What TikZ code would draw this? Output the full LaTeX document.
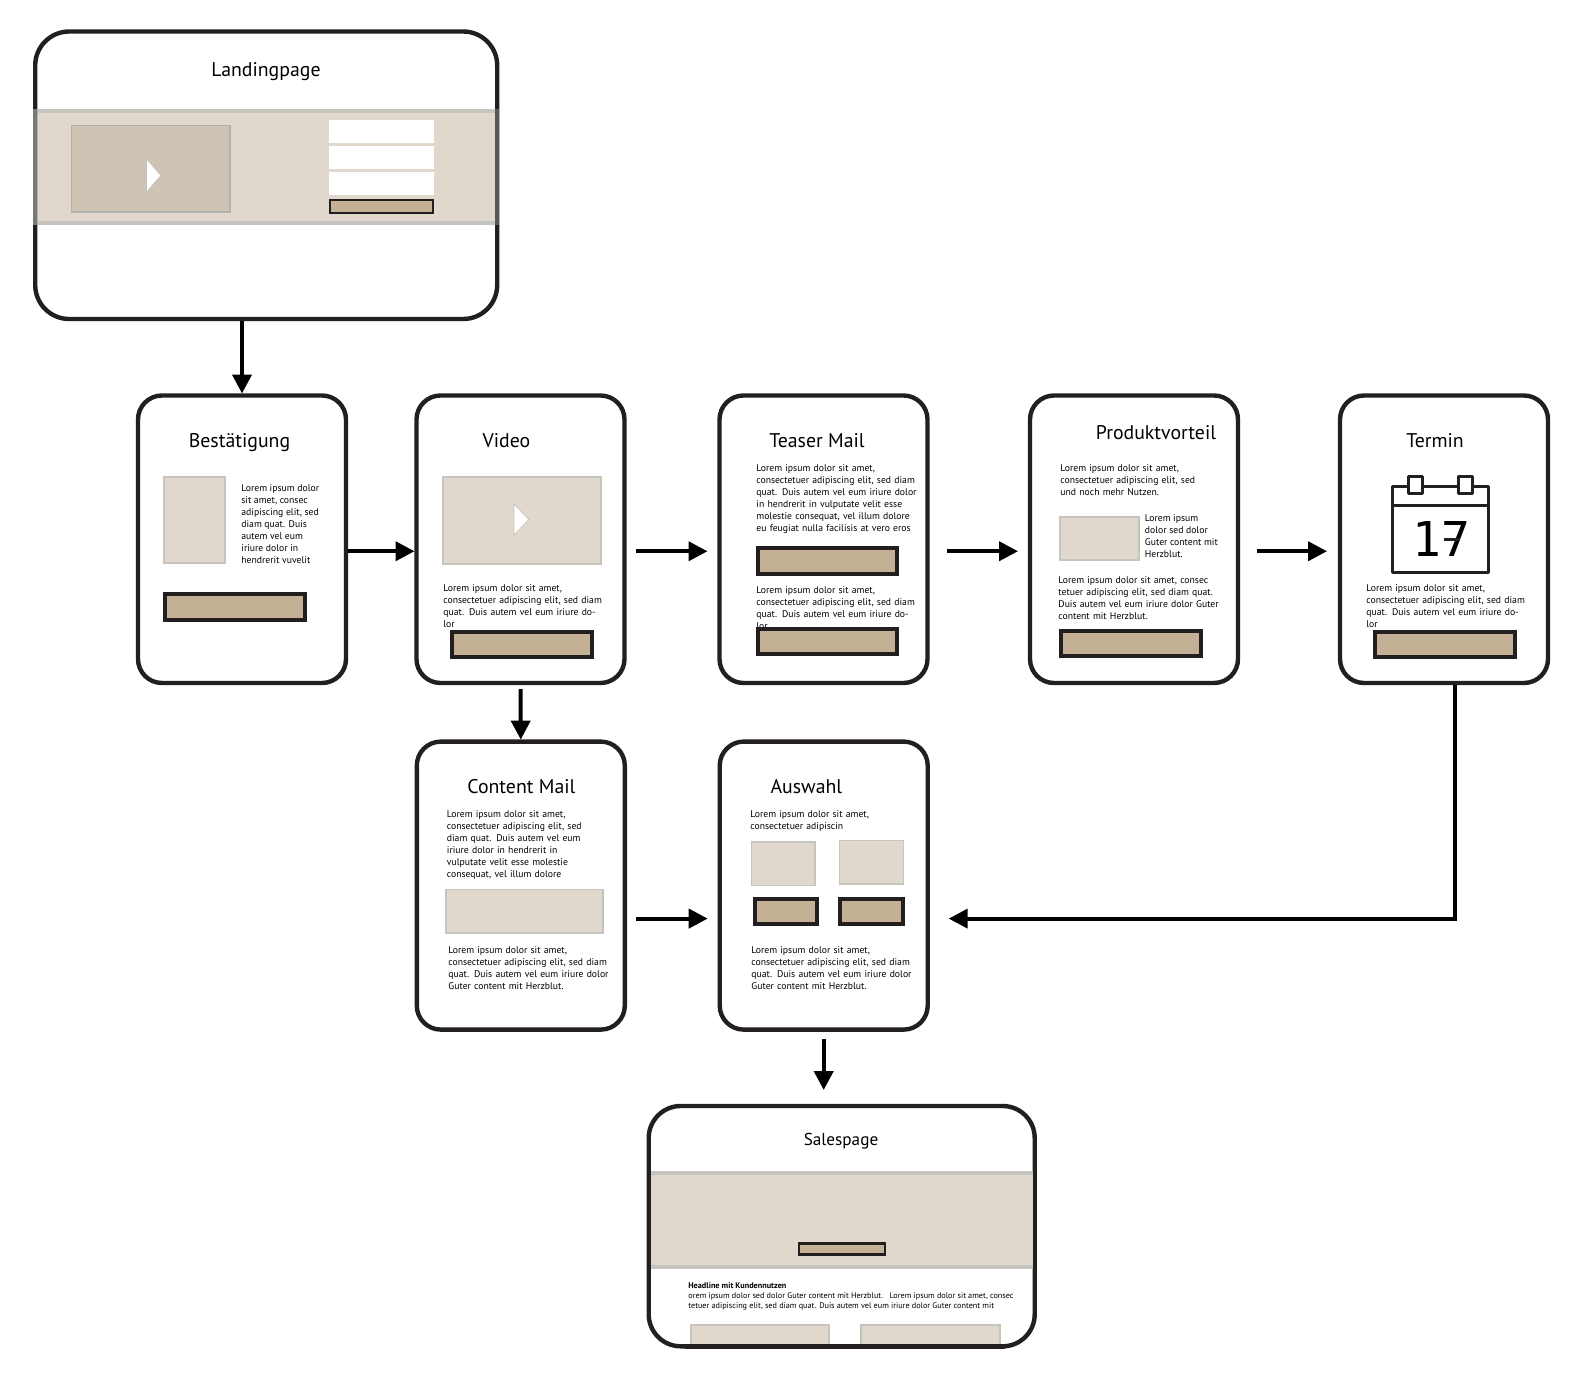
\documentclass[tikz,border=0pt]{standalone}
\usepackage{fontspec}
\usepackage{xcolor}
\usetikzlibrary{arrows.meta}
\setmainfont{PT Sans}
\newfontfamily\calfont{DejaVu Sans Mono}
\definecolor{framecol}{HTML}{231F20}
\definecolor{sandlight}{HTML}{E0D8CC}
\definecolor{sandmid}{HTML}{CFC4B4}
\definecolor{sanddark}{HTML}{C4B095}
\definecolor{edgecol}{HTML}{C6C4BE}
\newcommand{\fullline}[1]{\noindent\hbox to \hsize{#1}}
\tikzset{
    card/.style={draw=framecol,line width=2.2pt,fill=white,rounded corners=12pt,outer sep=1pt,inner sep=0pt,minimum width=104pt,minimum height=143.75pt},
    flow/.style={-{Triangle[length=9.5pt,width=9.5pt]},line width=2pt,black},
    heading/.style={font=\fontsize{9.9}{12}\selectfont,inner sep=0pt,text=black},
    bodytext/.style={font=\fontsize{4.85}{6}\selectfont,inner sep=0pt,anchor=north west,align=left},
    bodyleft/.style={font=\fontsize{4.85}{6}\selectfont,inner sep=0pt,anchor=north west,align=left},
    picbox/.style={fill=sandlight,draw=edgecol,line width=0.8pt},
    cta/.style={fill=sanddark,draw=framecol,line width=2pt},
    ctasmall/.style={fill=sanddark,draw=framecol,line width=1.2pt},
    playmark/.style={fill=white,draw=edgecol,line width=0.4pt},
    bandline/.style={draw=edgecol,line width=2pt},
    calline/.style={draw=framecol,line width=1.5pt,line join=round}
}
\begin{document}
\begin{tikzpicture}[x=0.5pt,y=-0.5pt]
    \useasboundingbox (0,0) rectangle (1596,1386);
    % landing page
    \node[card,rounded corners=17pt,minimum width=231pt] (landing) at (266.2,175.25) {};
    \fill[sandlight] (38,110) rectangle (495,224);
    \draw[bandline] (38,111) -- (495,111);
    \draw[bandline] (38,223) -- (495,223);
    \draw[white,opacity=.4,line width=2.2pt] (35.2,109) -- (35.2,225);
    \draw[white,opacity=.25,line width=2.2pt] (497.2,109) -- (497.2,225);
    \draw[fill=sandmid,draw=edgecol!90!black,line width=0.8pt] (71.5,125.5) rectangle (230,212);
    \draw[playmark] (146.5,159) -- (161,175.5) -- (146.5,192) -- cycle;
    \fill[white] (328.5,120) rectangle (434,143);
    \fill[white] (328.5,146) rectangle (434,169);
    \fill[white] (328.5,172) rectangle (434,195);
    \draw[ctasmall] (330,200) rectangle (433,213);
    \node[heading] (landingtitle) at (266,72) {Landingpage};
    % confirmation
    \node[card] (confirm) at (242,539.25) {};
    \node[heading] (confirmtitle) at (239.5,442.5) {Bestätigung};
    \draw[picbox] (164,477) rectangle (225,563);
    \node[bodyleft] (confirmtext) at (241,484) {Lorem ipsum dolor\\sit amet, consec\\adipiscing elit, sed\\diam quat. Duis\\autem vel eum\\iriure dolor in\\hendrerit vuvelit};
    \draw[cta] (165,594) rectangle (305,620);
    % video
    \node[card] (video) at (520.5,539.25) {};
    \node[heading] (videotitle) at (506.5,441) {Video};
    \draw[picbox] (443,477) rectangle (601,564);
    \draw[playmark] (514,504) -- (529,519.5) -- (514,535) -- cycle;
    \node[bodytext,text width=78.5pt] (videotext) at (443,584.5) {\fullline{Lorem ipsum dolor sit amet,}\\\fullline{consectetuer adipiscing elit, sed diam}\\quat. Duis autem vel eum iriure dolor};
    \draw[cta] (452,632) rectangle (592,657);
    % teaser mail
    \node[card] (teaser) at (823.5,539.25) {};
    \node[heading] (teasertitle) at (817,441) {Teaser Mail};
    \node[bodytext,text width=78.5pt] (teasertext) at (756,464.2) {\fullline{Lorem ipsum dolor sit amet,}\\\fullline{consectetuer adipiscing elit, sed diam}\\\fullline{quat. Duis autem vel eum iriure dolor}\\\fullline{in hendrerit in vulputate velit esse}\\\fullline{molestie consequat, vel illum dolore}\\eu feugiat nulla facilisis at vero eros};
    \draw[cta] (758,548) rectangle (897,574);
    \node[bodytext,text width=78.5pt] (teasermore) at (756,586.5) {\fullline{Lorem ipsum dolor sit amet,}\\\fullline{consectetuer adipiscing elit, sed diam}\\quat. Duis autem vel eum iriure dolor};
    \draw[cta] (758,629) rectangle (897,654);
    % product benefit
    \node[card] (benefit) at (1134,539.25) {};
    \node[heading] (benefittitle) at (1156,433) {Produktvorteil};
    \node[bodytext,text width=73pt] (benefittext) at (1060,464.2) {\fullline{Lorem ipsum dolor sit amet,}\\\fullline{consectetuer adipiscing elit, sed}\\und noch mehr Nutzen.};
    \draw[picbox] (1060,517) rectangle (1139,560);
    \node[bodyleft] (benefitside) at (1144.5,514) {Lorem ipsum\\dolor sed dolor\\Guter content mit\\Herzblut.};
    \node[bodytext,text width=79pt] (benefitmore) at (1058,576.5) {\fullline{Lorem ipsum dolor sit amet, consec}\\\fullline{tetuer adipiscing elit, sed diam quat.}\\\fullline{Duis autem vel eum iriure dolor Guter}\\content mit Herzblut.};
    \draw[cta] (1061,631) rectangle (1201,656);
    % date
    \node[card] (date) at (1444,539.25) {};
    \node[heading] (datetitle) at (1435,441) {Termin};
    \draw[calline] (1392,486) rectangle (1488,572.5);
    \draw[calline] (1392,505.5) -- (1488,505.5);
    \draw[calline,fill=white] (1408.5,476) rectangle (1422,493);
    \draw[calline,fill=white] (1458,476) rectangle (1472,493);
    \node[inner sep=0pt,font=\fontsize{24}{24}\selectfont\calfont] (daynum) at (1441,539) {17};
    \draw[calline] (1444,539.5) -- (1460,539.5);
    \node[bodytext,text width=78.5pt] (datetext) at (1366,584.5) {\fullline{Lorem ipsum dolor sit amet,}\\\fullline{consectetuer adipiscing elit, sed diam}\\quat. Duis autem vel eum iriure dolor};
    \draw[cta] (1375,632) rectangle (1515,657);
    % content mail
    \node[card,minimum height=144pt] (content) at (520.8,885.6) {};
    \node[heading] (contenttitle) at (521.4,787) {Content Mail};
    \node[bodytext,text width=73.2pt] (contenttext) at (446.5,810.2) {\fullline{Lorem ipsum dolor sit amet,}\\\fullline{consectetuer adipiscing elit, sed}\\\fullline{diam quat. Duis autem vel eum}\\\fullline{iriure dolor in hendrerit in}\\\fullline{vulputate velit esse molestie}\\consequat, vel illum dolore};
    \draw[picbox] (446,889.5) rectangle (603,933);
    \node[bodytext,text width=79.2pt] (contentmore) at (448,946.2) {\fullline{Lorem ipsum dolor sit amet,}\\\fullline{consectetuer adipiscing elit, sed diam}\\\fullline{quat. Duis autem vel eum iriure dolor}\\Guter content mit Herzblut.};
    % choice
    \node[card,minimum height=144pt] (choice) at (823.7,885.6) {};
    \node[heading] (choicetitle) at (806.4,787) {Auswahl};
    \node[bodytext,text width=73.2pt] (choicetext) at (750,810.2) {\fullline{Lorem ipsum dolor sit amet,}\\consectetuer adipiscin};
    \draw[picbox] (751.5,842) rectangle (815,885.5);
    \draw[picbox] (839.5,840.5) rectangle (903.5,884);
    \draw[cta] (754.5,899) rectangle (817,924);
    \draw[cta] (840,899) rectangle (903,924);
    \node[bodytext,text width=79pt] (choicemore) at (751,946.2) {\fullline{Lorem ipsum dolor sit amet,}\\\fullline{consectetuer adipiscing elit, sed diam}\\\fullline{quat. Duis autem vel eum iriure dolor}\\Guter content mit Herzblut.};
    % sales page
    \node[card,rounded corners=16pt,minimum width=193pt,minimum height=120.15pt] (sales) at (841.7,1226.15) {};
    \fill[sandlight] (651,1172) rectangle (1033,1267);
    \draw[bandline] (651,1172.5) -- (1033,1172.5);
    \draw[bandline] (651,1267) -- (1033,1267);
    \draw[ctasmall] (799,1243.5) rectangle (885,1254.5);
    \node[heading,font=\fontsize{8.6}{10}\selectfont] (salestitle) at (841,1141) {Salespage};
    \node[bodyleft,font=\fontsize{4.1}{5}\selectfont] (salestext) at (688,1282.5) {\textbf{Headline mit Kundennutzen}\\orem ipsum dolor sed dolor Guter content mit Herzblut.\ \ \ Lorem ipsum dolor sit amet, consec\\tetuer adipiscing elit, sed diam quat. Duis autem vel eum iriure dolor Guter content mit};
    \path[picbox] (691,1346) -- (691,1325) -- (829,1325) -- (829,1346) -- cycle;
    \path[picbox] (861,1346) -- (861,1325) -- (1000,1325) -- (1000,1346) -- cycle;
    \draw[framecol,line width=2.2pt] (685,1346.3) -- (1005,1346.3);
    % connectors
    \draw[flow] (confirm.north |- landing.south) -- (confirm.north);
    \draw[flow] ([yshift=-6pt]confirm.east) -- ([yshift=-6pt]video.west);
    \draw[flow,shorten <=4.5pt,shorten >=5pt] ([yshift=-6pt]video.east) -- ([yshift=-6pt]teaser.west);
    \draw[flow,shorten <=8.5pt,shorten >=5pt] ([yshift=-6pt]teaser.east) -- ([yshift=-6pt]benefit.west);
    \draw[flow,shorten <=8.5pt,shorten >=5.5pt] ([yshift=-6pt]benefit.east) -- ([yshift=-6pt]date.west);
    \draw[flow,shorten <=2pt] (video.south) -- (content.north);
    \draw[flow,shorten <=4.5pt,shorten >=5pt] ([yshift=-16.5pt]content.east) -- ([yshift=-16.5pt]choice.west);
    \draw[flow,shorten >=9.5pt] ([xshift=5.5pt]date.south) |- ([yshift=-16.5pt]choice.east);
    \draw[flow,shorten <=3.5pt,shorten >=7pt] (choice.south) -- (choice.south |- sales.north);
\end{tikzpicture}
\end{document}
